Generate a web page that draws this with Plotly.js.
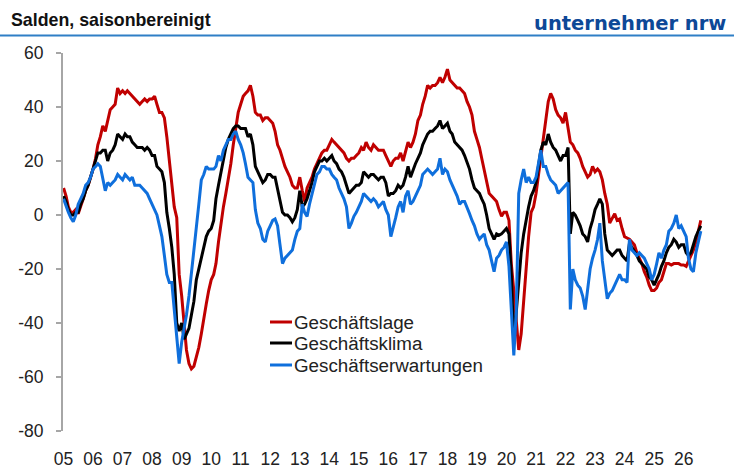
<!DOCTYPE html>
<html>
<head>
<meta charset="utf-8">
<script src="https://cdn.plot.ly/plotly-3.0.1.min.js"></script>
<style>
  html, body { margin: 0; padding: 0; background: #fff; }
  #chart { width: 734px; height: 475px; }
</style>
</head>
<body>
<div id="chart"></div>
<script>
// monthly values, Jan 2005 .. Aug 2026 (one row per year)
var startYear = 2005;

var lage = [
  10, 7, 3, 1, 1, 2, 0.5, 3, 6, 9, 11, 14,
  17, 21, 26, 29, 33, 31, 35, 39, 40, 41, 47, 45,
  46, 45, 46, 45, 44, 43, 42, 41, 42, 43, 42, 43,
  43, 44, 41, 38, 38, 36, 29, 21, 11, 3, -1, -22,
  -30, -42, -50, -55, -57, -56, -53, -49, -44, -38, -33, -28,
  -24, -22, -18, -10, -3, 3, 8, 13, 19, 26, 33, 38,
  41, 44, 45, 46, 48, 44, 38, 37, 37, 35, 36, 36,
  35, 34, 31, 26, 24, 21, 18, 16, 14, 11, 10, 10,
  14, 9, 5, 10, 12, 14, 17, 19, 21, 23, 24, 24,
  26, 28, 27, 26, 25, 24, 23, 21, 20, 21, 21, 22,
  23, 25, 24, 27, 25, 24, 26, 25, 24, 24, 24, 22,
  20, 18, 20, 21, 21, 23, 20, 24, 27, 25, 27, 30,
  35, 37, 41, 44, 48, 47, 48, 48, 49, 51, 49, 51,
  54, 50, 49, 48, 47, 47, 46, 45, 42, 40, 37, 31,
  28, 25, 21, 17, 12, 8, 7, 6, 5, 2, -0.5, 1,
  1, -2, -18, -28, -39, -50, -44, -32, -19, -8, 1, 3,
  8, 15, 22, 30, 36, 42, 45, 43, 39, 37, 36, 34,
  38, 32, 27, 26, 24, 23, 21, 18, 16, 14, 15, 18,
  16, 17, 16, 13, 8, 4, -3, -1, 0.5, -2, -1.5, -5,
  -8, -8.5, -9, -10, -11, -14, -16, -18, -21, -23, -26, -28,
  -28, -27, -25, -24, -21, -18, -18, -18.5, -18, -18, -18, -18.5,
  -18.5, -19, -17, -15, -13, -10, -6, -2
];

var klima = [
  7, 5, 2, 0, 0, 1, 1, 4, 6, 9, 11, 14,
  17, 20, 23, 23, 24, 24, 20, 23, 24, 26, 30, 29,
  28, 30, 29, 29, 27, 26, 25, 25, 25, 24, 25, 24,
  22, 22, 18, 17, 16, 12, 1, -5, -12, -22, -40, -43,
  -40, -46, -44, -42, -37, -32, -24, -20, -15, -12, -8, -6,
  -5, -2, 6, 11, 16, 20, 25, 28, 30, 32, 33, 33,
  32, 32, 32, 29, 30, 26, 18, 16, 14, 12, 13, 15,
  15, 14, 14, 10, 5, 1, 0, 0, -1, -2.5, -1, 2,
  9, 3, 4, 6, 9, 12, 16, 18, 20, 20, 21, 20,
  21, 22, 20, 19, 17, 16, 14, 11, 8, 9, 10, 11,
  11, 12, 16, 15, 14, 15, 15, 14, 13, 14, 14, 12,
  7, 8, 8, 9, 11, 10, 11, 14, 18, 14, 17, 19,
  21, 23, 26, 28, 30, 31, 31, 32, 33, 35, 32, 33,
  34, 31, 30, 27, 26, 25, 24, 22, 19, 17, 13, 10,
  9, 8, 6, 4, 0, -5, -7, -9, -7, -7.5, -7, -6,
  -5, -7, -22, -47, -35, -24, -14, -7, -1, 3, 7, 9,
  12, 19, 24, 27, 26, 30, 27, 25, 24, 22, 20, 22,
  22, 25, -7, 1, 0, -2, -4, -7, -8, -10, -5, -2,
  2, 4, 6, 4, -7, -13, -14, -15, -14, -13, -13, -15,
  -16, -17, -10.5, -12, -13, -15, -17, -18, -19, -20, -23, -24,
  -26, -24, -22, -19, -17, -14, -12, -11, -9, -10, -12, -11,
  -11, -14, -15, -14, -11, -8, -6, -4
];

var erwartungen = [
  6, 3, 1, -1, -2.5, 0, 4, 6, 8, 11, 12, 14,
  17, 18, 19, 18, 14, 9, 12, 11, 12, 13, 15, 14,
  13, 15, 14, 13, 14, 11, 11, 11, 10, 9, 8, 6,
  4, 2.5, 0, -4, -8, -15, -22, -25, -25, -35, -45, -55,
  -47, -42, -37, -30, -22, -14, -6, 4, 13, 15, 18, 17,
  17, 17, 18, 22, 20, 24, 26, 28, 28, 30, 31, 28,
  26, 23, 19, 14, 13, 12, 2, -3, -5, -9, -10, -6,
  -4, -2, -1.5, -4, -11, -18, -16, -15, -14, -13, -9, -6,
  -5, 4, 1, -0.5, 4, 8, 11, 15, 16, 18, 18, 17,
  17, 15, 14, 13, 10, 8, 6, 3, -5, -3, -0.5, 1,
  3, 5, 8, 7, 6, 5, 6, 5, 3, 4, 5, 2,
  0, -8, -4, -1, 3, 5, 1, 7, 9, 4, 5, 7,
  9, 11, 15, 16, 17, 16, 15, 16, 17, 21, 15, 17,
  16, 13, 11, 9, 7, 4, 5, 5, 3, 0.5, -2, -4,
  -7, -9, -8, -7, -11, -13, -17, -21, -16, -15, -13, -12,
  -10, -19, -35, -52, -36, 8, 13, 17, 12, 14, 12, 12,
  14, 20, 24, 18, 18, 15, 13, 12, 11, 8, 9, 10,
  11, 12, -35, -20, -24, -26, -27, -30, -35, -27, -20, -16,
  -13, -9, -3, -17, -25, -31, -29, -28, -26, -24, -22, -24,
  -24, -25, -9, -13, -14, -15, -14, -15, -16, -18, -20, -24,
  -22, -18, -14, -16, -13, -11, -6, -5, -3, 0, -5, -4,
  -6, -8, -16, -20, -21, -14, -10, -6
];

var seriesNames = ['Geschäftslage', 'Geschäftsklima', 'Geschäftserwartungen'];
var seriesColors = ['#c00000', '#000000', '#0f6fdc'];

var yTicks = [-80, -60, -40, -20, 0, 20, 40, 60];
var yLabels = ['-80', '-60', '-40', '-20', '0', '20', '40', '60'];

var yearTicks = [], yearLabels = [];
for (var y = 2005; y <= 2026; y++) {
  yearTicks.push(y + '-01-01');
  yearLabels.push(String(y).slice(2));
}

function monthDates(n) {
  var d = [];
  for (var i = 0; i < n; i++) {
    var yr = startYear + Math.floor(i / 12);
    var mo = (i % 12) + 1;
    d.push(yr + '-' + (mo < 10 ? '0' : '') + mo + '-01');
  }
  return d;
}

var values = [lage, klima, erwartungen];
var data = [];
for (var s = 0; s < values.length; s++) {
  data.push({
    x: monthDates(values[s].length),
    y: values[s],
    type: 'scatter',
    mode: 'lines',
    name: seriesNames[s],
    line: { color: seriesColors[s], width: 3 }
  });
}

var xRange = ['2004-12-25', '2026-12-05'];
var font = 'Liberation Sans, Arial, Helvetica, sans-serif';

// hand made legend, paper coordinates (plot area 648 x 378 px)
var legendRows = [109 / 378, 88 / 378, 66 / 378];
var shapes = [{
  type: 'line', xref: 'paper', yref: 'paper',
  x0: -63 / 648, x1: 671 / 648, y0: 395.5 / 378, y1: 395.5 / 378,
  line: { color: '#2f7fc6', width: 2 }
}];
var annotations = [{
  text: '<b>unternehmer nrw</b>',
  xref: 'paper', yref: 'paper',
  x: 665 / 648, y: 408 / 378,
  xanchor: 'right', yanchor: 'middle',
  showarrow: false,
  font: { family: 'DejaVu Sans, sans-serif', size: 19.5, color: '#0d4897' }
}];
for (var k = 0; k < seriesNames.length; k++) {
  shapes.push({
    type: 'line', xref: 'paper', yref: 'paper',
    x0: 207 / 648, x1: 229 / 648, y0: legendRows[k], y1: legendRows[k],
    line: { color: seriesColors[k], width: 3 }
  });
  annotations.push({
    text: seriesNames[k],
    xref: 'paper', yref: 'paper',
    x: 229 / 648, y: legendRows[k],
    xanchor: 'left', yanchor: 'middle',
    showarrow: false,
    font: { family: font, size: 18.8, color: '#222' }
  });
}

var layout = {
  width: 734,
  height: 475,
  margin: { l: 63, r: 23, t: 53, b: 44 },
  paper_bgcolor: '#fff',
  plot_bgcolor: '#fff',
  showlegend: false,
  font: { family: font, size: 17, color: '#222' },
  title: {
    text: '<b>Salden, saisonbereinigt</b>',
    x: 11 / 734, xanchor: 'left', xref: 'container',
    y: 1 - 20 / 475, yanchor: 'middle', yref: 'container',
    font: { family: font, size: 17.8, color: '#111' }
  },
  xaxis: {
    type: 'date',
    range: xRange,
    tickvals: yearTicks,
    ticktext: yearLabels,
    ticks: '',
    showline: false,
    showgrid: false,
    zeroline: false,
    ticklabelstandoff: 15,
    tickfont: { family: font, size: 17.5, color: '#222' }
  },
  xaxis2: {
    type: 'date',
    overlaying: 'x',
    anchor: 'free',
    position: 80 / 140,
    range: xRange,
    tickvals: yearTicks.slice(1),
    showticklabels: false,
    ticks: 'outside',
    ticklen: 5,
    tickwidth: 1.5,
    tickcolor: '#999',
    showline: true,
    linecolor: '#555',
    linewidth: 1.5,
    showgrid: false,
    zeroline: false
  },
  yaxis: {
    range: [-80, 60],
    tickvals: yTicks,
    ticktext: yLabels,
    ticks: 'outside',
    ticklen: 5,
    tickwidth: 1.5,
    tickcolor: '#a6a6a6',
    showline: true,
    linecolor: '#a6a6a6',
    linewidth: 2,
    showgrid: false,
    zeroline: false,
    ticklabelstandoff: 9,
    tickfont: { family: font, size: 17.5, color: '#222' }
  },
  shapes: shapes,
  annotations: annotations
};

Plotly.newPlot('chart', data, layout, { displayModeBar: false, staticPlot: true });
</script>
</body>
</html>
